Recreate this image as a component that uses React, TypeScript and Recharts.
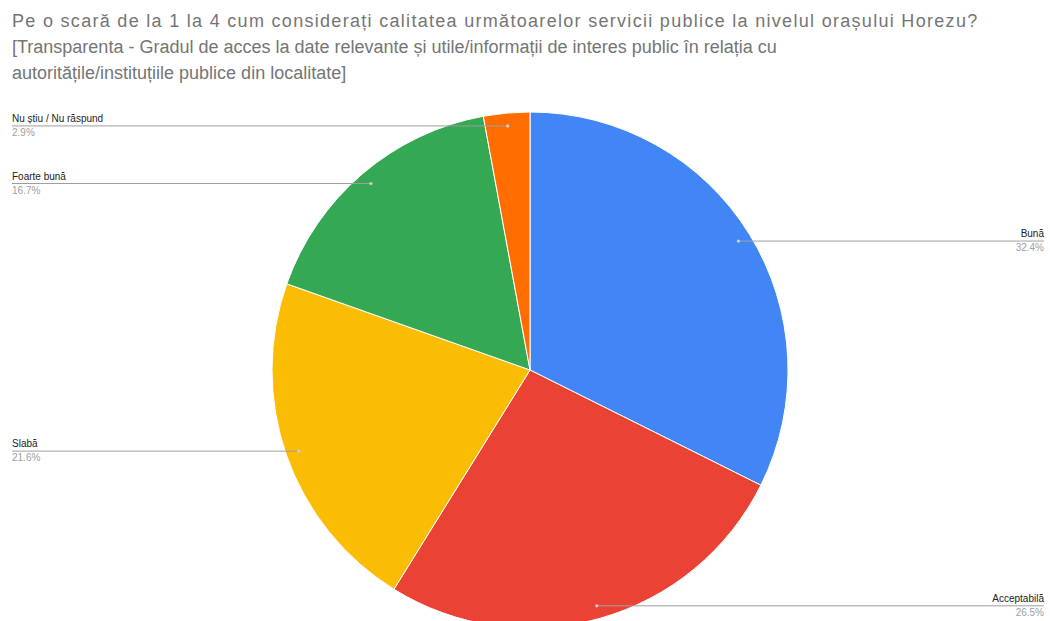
import React from 'react';
import { PieChart, Pie, Cell } from 'recharts';

const categories = ['Bună', 'Acceptabilă', 'Slabă', 'Foarte bună', 'Nu știu / Nu răspund'];
const shares = [32.4, 26.5, 21.6, 16.7, 2.9];
const colors = ['#4285F4', '#EA4335', '#FBBC04', '#34A853', '#FF6D01'];

const titleLines = [
  'Pe o scară de la 1 la 4 cum considerați calitatea următoarelor servicii publice la nivelul orașului Horezu?',
  '[Transparenta - Gradul de acces la date relevante și utile/informații de interes public în relația cu',
  'autoritățile/instituțiile publice din localitate]',
];
// first title line is drawn a bit wider in the original
const titleSpacing = [1.3, 0, 0];

const data = categories.map((name, i) => ({ name, value: shares[i] }));

const RADIAN = Math.PI / 180;
const W = 1050;
const H = 621;

const renderLabel = (props: any) => {
  const { cx, cy, midAngle, outerRadius, index } = props;
  const r = outerRadius * 0.95;
  const x = cx + r * Math.cos(-midAngle * RADIAN);
  const y = cy + r * Math.sin(-midAngle * RADIAN);
  const right = x > cx;
  const edge = right ? W - 6 : 12;
  return (
    <g key={`lbl-${index}`}>
      <line x1={x} y1={y} x2={edge} y2={y} stroke="#9e9e9e" strokeWidth={1} />
      <circle cx={x} cy={y} r={1.6} fill="#d0d0d0" />
      <text
        x={edge}
        y={y - 4}
        textAnchor={right ? 'end' : 'start'}
        fontSize={10}
        fill="#222222"
        fontFamily="Arial, 'Liberation Sans', sans-serif"
      >
        {categories[index]}
      </text>
      <text
        x={edge}
        y={y + 10}
        textAnchor={right ? 'end' : 'start'}
        fontSize={10}
        fill="#9e9e9e"
        fontFamily="Arial, 'Liberation Sans', sans-serif"
      >
        {shares[index].toFixed(1)}%
      </text>
    </g>
  );
};

const App: React.FC = () => {
  return (
    <div style={{ position: 'absolute', left: 0, top: 0, width: W, height: H, background: '#fff', overflow: 'hidden' }}>
      <PieChart width={W} height={H} margin={{ top: 0, right: 0, bottom: 0, left: 0 }}>
        <Pie
          data={data}
          dataKey="value"
          nameKey="name"
          cx={530}
          cy={370}
          outerRadius={258}
          startAngle={90}
          endAngle={-270}
          stroke="#ffffff"
          strokeWidth={1}
          label={renderLabel}
          labelLine={false}
          isAnimationActive={false}
        >
          {data.map((entry, index) => (
            <Cell key={`cell-${index}`} fill={colors[index]} />
          ))}
        </Pie>
      </PieChart>
      <div
        style={{
          position: 'absolute',
          left: 12,
          top: 8,
          fontFamily: "Arial, 'Liberation Sans', sans-serif",
          fontSize: 18,
          lineHeight: '26px',
          color: '#757575',
          whiteSpace: 'nowrap',
        }}
      >
        {titleLines.map((t, i) => (
          <div key={i} style={{ letterSpacing: titleSpacing[i] }}>{t}</div>
        ))}
      </div>
    </div>
  );
};

export default App;
